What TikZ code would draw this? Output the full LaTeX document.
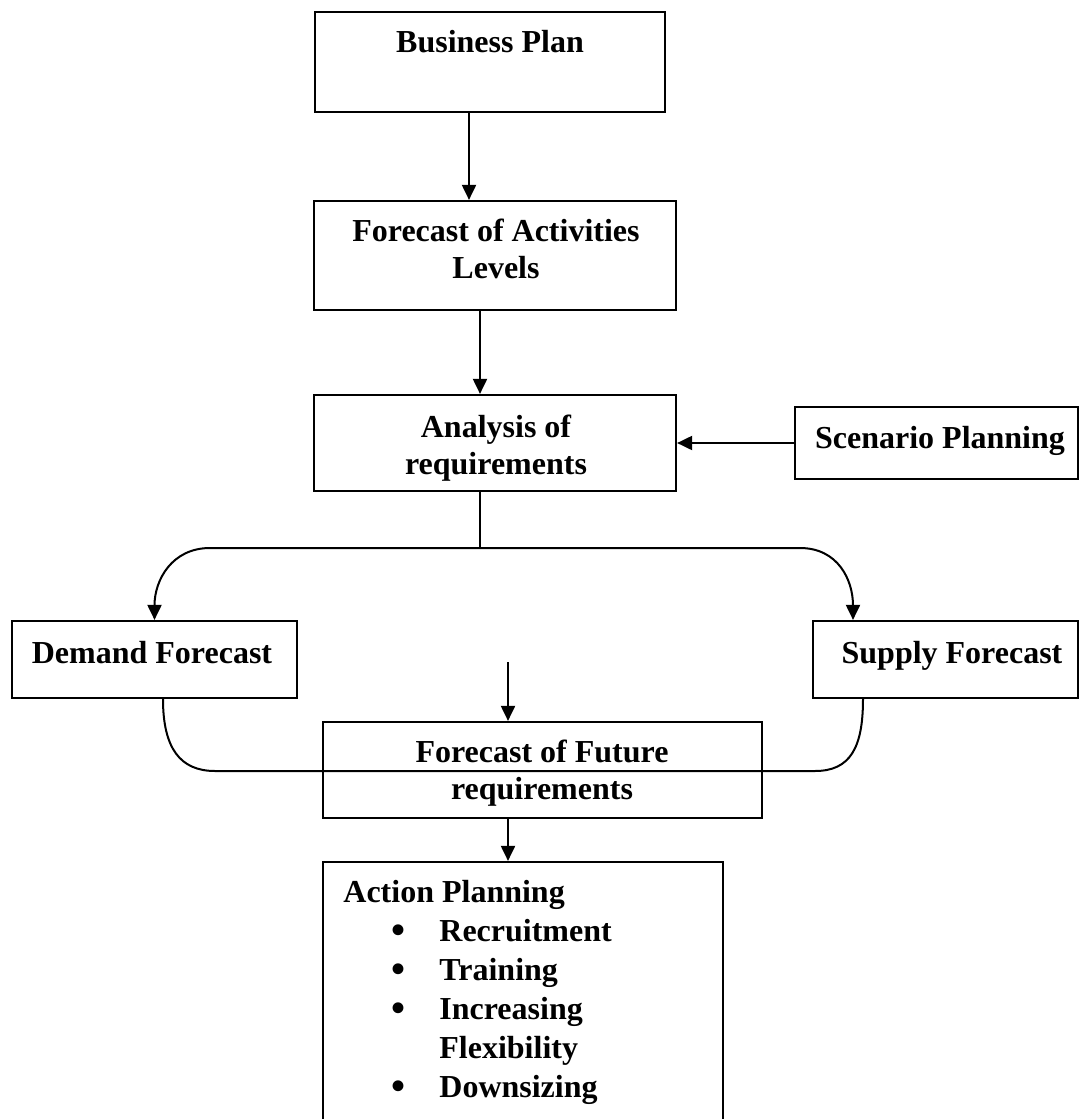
\documentclass[tikz,border=0pt]{standalone}
\usepackage{fontspec}
\setmainfont{Liberation Serif}
\usetikzlibrary{arrows.meta}
\newcommand{\bigbul}{\raisebox{-1.4pt}{\scalebox{1.25}{•}}}
\begin{document}
\begin{tikzpicture}[x=0.5pt,y=-0.5pt,
  box/.style={draw, line width=1.1pt, inner sep=0pt, rectangle},
  txt/.style={font=\fontsize{16pt}{18.5pt}\selectfont\bfseries, inner sep=0pt, anchor=base},
  txtml/.style={font=\fontsize{16pt}{18.5pt}\selectfont\bfseries, inner sep=0pt, anchor=base, text width=210pt, align=flush center},
  listtxt/.style={font=\fontsize{16pt}{19.5pt}\selectfont\bfseries, inner sep=0pt, anchor=base west, text width=185pt, align=flush left},
  arr/.style={line width=1pt, -{Triangle[width=7pt,length=7.5pt]}},
  conn/.style={line width=1pt}
]
\clip (0,0) rectangle (1081,1119);
\fill[white] (0,0) rectangle (1081,1119);

% boxes
\node[box, minimum width=175pt, minimum height=50pt] (bp) at (490,62) {};
\node[box, minimum width=181pt, minimum height=54.5pt] (fa) at (495,255.5) {};
\node[box, minimum width=181pt, minimum height=48pt] (ar) at (495,443) {};
\node[box, minimum width=141.5pt, minimum height=36pt] (sp) at (936.5,443) {};
\node[box, minimum width=142.5pt, minimum height=38.5pt] (df) at (154.5,659.5) {};
\node[box, minimum width=132.5pt, minimum height=38.5pt] (sf) at (945.5,659.5) {};
\node[box, minimum width=219.5pt, minimum height=48pt] (ff) at (542.5,770) {};
\node[box, minimum width=200pt, minimum height=140pt] (ap) at (523,1002) {};

% texts
\node[txt] (tbp) at (490,53) {Business Plan};
\node[txtml] (tfa) at (496,241) {Forecast of Activities\\Levels};
\node[txtml] (tar) at (496,437) {Analysis of\\requirements};
\node[txt] (tsp) at (940,448) {Scenario Planning};
\node[txt] (tdf) at (152,663) {Demand Forecast};
\node[txt] (tsf) at (952,663) {Supply Forecast};
\node[txtml] (tff) at (542,762) {Forecast of Future\\requirements};
\node[listtxt] (tap) at (343,902) {Action Planning\\
\hspace*{24pt}\makebox[24pt][l]{\bigbul}Recruitment\\
\hspace*{24pt}\makebox[24pt][l]{\bigbul}Training\\
\hspace*{24pt}\makebox[24pt][l]{\bigbul}Increasing\\
\hspace*{48pt}Flexibility\\
\hspace*{24pt}\makebox[24pt][l]{\bigbul}Downsizing};

% connectors
\coordinate (a1) at ([xshift=-10.5pt]bp.south);
\draw[arr] (a1) -- (a1 |- fa.north);
\coordinate (a2) at ([xshift=-7.5pt]fa.south);
\draw[arr] (a2) -- (a2 |- ar.north);
\draw[arr] (sp.west) -- (sp.west -| ar.east);
\coordinate (a3) at ([xshift=-7.5pt]ar.south);
\coordinate (j) at (480,548);
\draw[conn] (a3) -- (j);
\draw[arr] (j) -- (210,548) .. controls (172,548) and (154.5,580) .. (df.north);
\coordinate (sfin) at ([xshift=-46.25pt]sf.north);
\draw[arr] (j) -- (800,548) .. controls (838,548) and (853,580) .. (sfin);
\coordinate (dfout) at ([xshift=4.25pt]df.south);
\coordinate (sfout) at ([xshift=-41.25pt]sf.south);
\draw[conn] (dfout) .. controls (163,748) and (180,771) .. (215,771) -- (815,771) .. controls (850,771) and (863,748) .. (sfout);
\coordinate (fin) at (508,662);
\draw[arr] (fin) -- (fin |- ff.north);
\coordinate (f2) at ([xshift=-17.25pt]ff.south);
\draw[arr] (f2) -- (f2 |- ap.north);
\end{tikzpicture}
\end{document}
